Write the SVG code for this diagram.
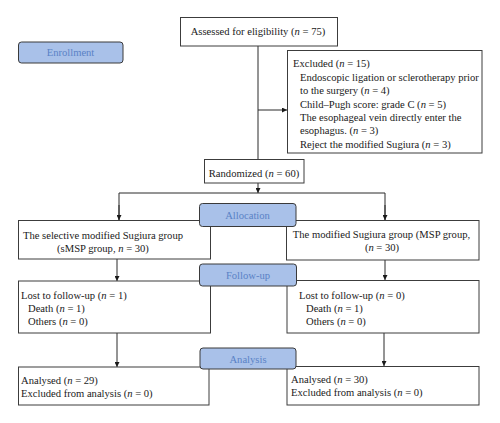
<svg xmlns="http://www.w3.org/2000/svg" width="500" height="423" viewBox="0 0 500 423">
<defs>
<style>
.box{fill:#fff;stroke:#3c3c3c;stroke-width:1}
.phase{fill:#a9c1e9;stroke:#3a3a3a;stroke-width:1}
.t{font-family:"Liberation Serif","Times New Roman",serif;font-size:10.6px;fill:#1a1a1a}
.pt{font-family:"Liberation Serif","Times New Roman",serif;font-size:10.6px;fill:#5a82c6;text-anchor:middle}
.c{text-anchor:middle}
.i{font-style:italic}
.ln{fill:none;stroke:#2a2a2a;stroke-width:1}
</style>
<marker id="ah" viewBox="0 0 10 10" refX="10" refY="5" markerWidth="5" markerHeight="5" orient="auto" markerUnits="userSpaceOnUse">
<path d="M0,0 L10,5 L0,10 z" fill="#1a1a1a"/>
</marker>
</defs>
<rect width="500" height="423" fill="#fff"/>

<g id="connectors">
<path class="ln" d="M258,46 V159"/>
<path class="ln" d="M258,110 H287" marker-end="url(#ah)"/>
<path class="ln" d="M258,183 V193" marker-end="url(#ah)"/>
<path class="ln" d="M119,220 V193 H385 V220" />
<path class="ln" d="M119,205 V220" marker-end="url(#ah)"/>
<path class="ln" d="M385,205 V220" marker-end="url(#ah)"/>
<path class="ln" d="M117,259 V281" marker-end="url(#ah)"/>
<path class="ln" d="M385,260 V280" marker-end="url(#ah)"/>
<path class="ln" d="M117,333 V367" marker-end="url(#ah)"/>
<path class="ln" d="M384,333 V366" marker-end="url(#ah)"/>
</g>

<g id="assessed">
<rect class="box" x="180.5" y="17.5" width="157" height="28.5"/>
<text class="t c" x="258" y="35">Assessed for eligibility (<tspan class="i">n</tspan> = 75)</text>
</g>

<g id="excluded">
<rect class="box" x="287.5" y="50.5" width="194.5" height="102.5"/>
<text class="t" x="293" y="67">Excluded (<tspan class="i">n</tspan> = 15)</text>
<text class="t" x="300" y="80.5">Endoscopic ligation or sclerotherapy prior</text>
<text class="t" x="300" y="94">to the surgery (<tspan class="i">n</tspan> = 4)</text>
<text class="t" x="300" y="107.5">Child–Pugh score: grade C (<tspan class="i">n</tspan> = 5)</text>
<text class="t" x="300" y="121">The esophageal vein directly enter the</text>
<text class="t" x="300" y="134">esophagus. (<tspan class="i">n</tspan> = 3)</text>
<text class="t" x="300" y="147.5">Reject the modified Sugiura (<tspan class="i">n</tspan> = 3)</text>
</g>

<g id="randomized">
<rect class="box" x="204.5" y="159.5" width="99.5" height="23.5"/>
<text class="t c" x="254" y="176.5">Randomized (<tspan class="i">n</tspan> = 60)</text>
</g>

<g id="smsp">
<rect class="box" x="18.5" y="220.5" width="192" height="38.5"/>
<text class="t c" x="103" y="238.5">The selective modified Sugiura group</text>
<text class="t c" x="103" y="251.5">(sMSP group, <tspan class="i">n</tspan> = 30)</text>
</g>

<g id="msp">
<rect class="box" x="286.5" y="220.5" width="192.5" height="39.5"/>
<text class="t c" x="381.5" y="237.5">The modified Sugiura group (MSP group,</text>
<text class="t c" x="382" y="250.5">(<tspan class="i">n</tspan> = 30)</text>
</g>

<g id="followup-left">
<rect class="box" x="18.5" y="281" width="192" height="52"/>
<text class="t" x="21" y="298.5">Lost to follow-up (<tspan class="i">n</tspan> = 1)</text>
<text class="t" x="28" y="311.5">Death (<tspan class="i">n</tspan> = 1)</text>
<text class="t" x="28" y="325">Others (<tspan class="i">n</tspan> = 0)</text>
</g>

<g id="followup-right">
<rect class="box" x="287" y="280.5" width="192" height="52.5"/>
<text class="t" x="299" y="298.5">Lost to follow-up (<tspan class="i">n</tspan> = 0)</text>
<text class="t" x="306" y="311.5">Death (<tspan class="i">n</tspan> = 1)</text>
<text class="t" x="306" y="325">Others (<tspan class="i">n</tspan> = 0)</text>
</g>

<g id="analysed-left">
<rect class="box" x="18.5" y="367" width="190.5" height="38"/>
<text class="t" x="21" y="383.5">Analysed (<tspan class="i">n</tspan> = 29)</text>
<text class="t" x="21" y="396.5">Excluded from analysis (<tspan class="i">n</tspan> = 0)</text>
</g>

<g id="analysed-right">
<rect class="box" x="287" y="366.5" width="192" height="38.5"/>
<text class="t" x="291" y="383">Analysed (<tspan class="i">n</tspan> = 30)</text>
<text class="t" x="291" y="396">Excluded from analysis (<tspan class="i">n</tspan> = 0)</text>
</g>

<g id="enrollment">
<rect class="phase" x="18.5" y="42" width="104.5" height="21" rx="3"/>
<text class="pt" x="70.5" y="56">Enrollment</text>
</g>

<g id="allocation">
<rect class="phase" x="199.5" y="203.5" width="96.5" height="23" rx="3"/>
<text class="pt" x="247.5" y="218.5">Allocation</text>
</g>

<g id="followup">
<rect class="phase" x="199.5" y="264" width="97" height="22" rx="3"/>
<text class="pt" x="248" y="278.5">Follow-up</text>
</g>

<g id="analysis">
<rect class="phase" x="200" y="348" width="96" height="21" rx="3"/>
<text class="pt" x="248" y="362.5">Analysis</text>
</g>
</svg>
